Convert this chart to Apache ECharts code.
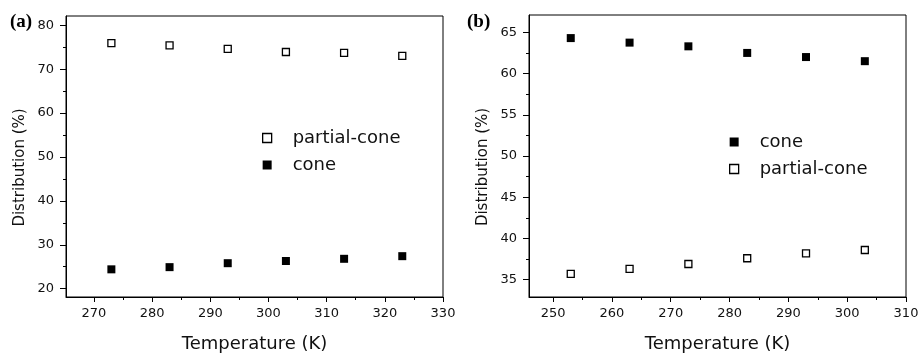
<!DOCTYPE html>
<html>
<head>
<meta charset="utf-8">
<script src="https://cdn.jsdelivr.net/npm/echarts@6/dist/echarts.min.js"></script>
<style>
html,body{margin:0;padding:0;background:#fff}
#chart{width:919px;height:353px}
</style>
</head>
<body>
<div id="chart"></div>
<script>
// panel (a)
var tempA = [273, 283, 293, 303, 313, 323];
var partialA = [75.9, 75.4, 74.6, 73.9, 73.7, 73.0];
var coneA = [24.4, 24.9, 25.8, 26.3, 26.8, 27.4];
var xTicksA = [270, 280, 290, 300, 310, 320, 330];
var xMinorA = [275, 285, 295, 305, 315, 325];
var yTicksA = [20, 30, 40, 50, 60, 70, 80];
var yMinorA = [25, 35, 45, 55, 65, 75];

// panel (b)
var tempB = [253, 263, 273, 283, 293, 303];
var coneB = [64.3, 63.75, 63.3, 62.5, 62.0, 61.5];
var partialB = [35.7, 36.3, 36.9, 37.6, 38.2, 38.6];
var xTicksB = [250, 260, 270, 280, 290, 300, 310];
var xMinorB = [255, 265, 275, 285, 295, 305];
var yTicksB = [35, 40, 45, 50, 55, 60, 65];
var yMinorB = [37.5, 42.5, 47.5, 52.5, 57.5, 62.5];

var FONT = 'DejaVu Sans';

function zip(xs, ys){
	var out = [];
	for(var i=0;i<xs.length;i++) out.push([xs[i], ys[i]]);
	return out;
}

// main axis: line, long ticks, labels
function mainX(grid, min, max, ticks){
	return {
		type: 'value', gridIndex: grid, position: 'bottom', min: min, max: max,
		name: 'Temperature (K)', nameLocation: 'middle', nameGap: 38,
		nameTextStyle: {fontFamily: FONT, fontSize: 18, color: '#111'},
		axisLine: {show: true, onZero: false, lineStyle: {color: '#000', width: 1}},
		axisTick: {show: true, customValues: ticks, length: 5, lineStyle: {color: '#000'}},
		axisLabel: {customValues: ticks, margin: 10, fontFamily: FONT, fontSize: 13, color: '#111'},
		splitLine: {show: false}
	};
}
function mainY(grid, min, max, ticks){
	return {
		type: 'value', gridIndex: grid, position: 'left', min: min, max: max,
		name: 'Distribution (%)', nameLocation: 'middle', nameGap: 38,
		nameTextStyle: {fontFamily: FONT, fontSize: 15, color: '#111', padding: [0, 22, 0, 0]},
		axisLine: {show: true, onZero: false, lineStyle: {color: '#000', width: 1}},
		axisTick: {show: true, customValues: ticks, length: 6, lineStyle: {color: '#000'}},
		axisLabel: {customValues: ticks, margin: 12, fontFamily: FONT, fontSize: 13, color: '#111'},
		splitLine: {show: false}
	};
}
// minor axis: short ticks only
function minorAxis(grid, pos, min, max, ticks){
	return {
		type: 'value', gridIndex: grid, position: pos, min: min, max: max,
		axisLine: {show: false, onZero: false},
		axisTick: {show: true, customValues: ticks, length: 3, lineStyle: {color: '#000'}},
		axisLabel: {show: false},
		splitLine: {show: false}
	};
}

function openSeries(name, x, y, data){
	return {
		name: name, type: 'scatter', xAxisIndex: x, yAxisIndex: y, data: data,
		symbol: 'rect', symbolSize: 7,
		itemStyle: {color: '#fff', borderColor: '#000', borderWidth: 1.3, opacity: 1}
	};
}
function filledSeries(name, x, y, data){
	return {
		name: name, type: 'scatter', xAxisIndex: x, yAxisIndex: y, data: data,
		symbol: 'rect', symbolSize: 8,
		itemStyle: {color: '#000', opacity: 1}
	};
}

var legendText = {fontFamily: FONT, fontSize: 18, color: '#111', padding: [0, 0, 0, 16]};

var option = {
	animation: false,
	backgroundColor: '#fff',
	grid: [
		{left: 66, top: 16, width: 377, height: 281, outerBoundsMode: 'none', containLabel: false,
			show: true, borderColor: '#000', borderWidth: 1},
		{left: 529, top: 15, width: 377, height: 282, outerBoundsMode: 'none', containLabel: false,
			show: true, borderColor: '#000', borderWidth: 1}
	],
	xAxis: [
		mainX(0, 265.2, 330, xTicksA),
		minorAxis(0, 'bottom', 265.2, 330, xMinorA),
		mainX(1, 245.9, 310, xTicksB),
		minorAxis(1, 'bottom', 245.9, 310, xMinorB)
	],
	yAxis: [
		mainY(0, 18.1, 82.1, yTicksA),
		minorAxis(0, 'left', 18.1, 82.1, yMinorA),
		mainY(1, 32.9, 67.1, yTicksB),
		minorAxis(1, 'left', 32.9, 67.1, yMinorB)
	],
	legend: [
		{
			orient: 'vertical', left: 257, top: 124, itemGap: 9,
			itemWidth: 9, itemHeight: 9, icon: 'rect',
			itemStyle: {borderWidth: 1.3},
			data: ['partial-cone', 'cone'], textStyle: legendText
		},
		{
			orient: 'vertical', left: 724, top: 128, itemGap: 9,
			itemWidth: 9, itemHeight: 9, icon: 'rect',
			itemStyle: {borderWidth: 1.3},
			data: ['cone', 'partial-cone'], textStyle: legendText
		}
	],
	graphic: [
		{type: 'text', left: 10, top: 13, style: {text: '(a)', font: 'bold 19px "Liberation Serif"', fill: '#000'}},
		{type: 'text', left: 467, top: 13, style: {text: '(b)', font: 'bold 19px "Liberation Serif"', fill: '#000'}}
	],
	series: [
		openSeries('partial-cone', 0, 0, zip(tempA, partialA)),
		filledSeries('cone', 0, 0, zip(tempA, coneA)),
		filledSeries('cone', 2, 2, zip(tempB, coneB)),
		openSeries('partial-cone', 2, 2, zip(tempB, partialB))
	]
};

var chart = echarts.init(document.getElementById('chart'), null, {renderer: 'canvas'});
chart.setOption(option);
</script>
</body>
</html>
